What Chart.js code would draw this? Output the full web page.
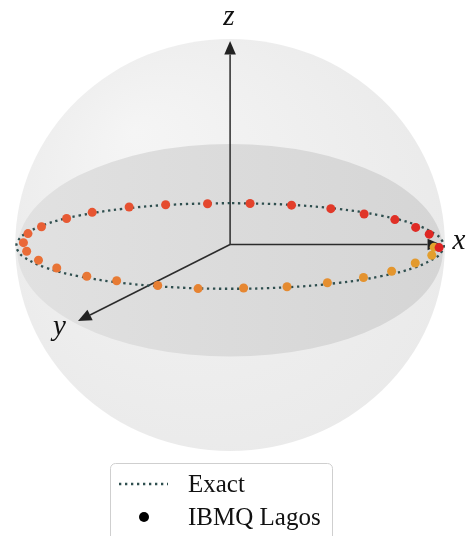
<!DOCTYPE html>
<html>
<head>
<meta charset="utf-8">
<script src="https://cdn.jsdelivr.net/npm/chart.js@4.4.1/dist/chart.umd.min.js"></script>
<style>
  html, body { margin: 0; padding: 0; background: #fff; }
  #bloch { display: block; }
</style>
</head>
<body>
<canvas id="bloch" width="470" height="536"></canvas>
<script>
// Positions, projected onto the page, in sphere radii
// (x to the right, y upward, origin at the centre of the sphere)
const seriesNames = ['Exact', 'IBMQ Lagos'];
const axisNames = ['x', 'y', 'z'];

const exactX = [0.000, -0.258, -0.498, -0.704, -0.862, -0.961, -0.986, -0.995, -0.986, -0.961,
  -0.862, -0.704, -0.498, -0.258, 0.000, 0.258, 0.498, 0.704, 0.862, 0.961,
  0.986, 0.995, 0.986, 0.961, 0.862, 0.704, 0.498, 0.258, 0.000];
const exactY = [0.203, 0.196, 0.175, 0.142, 0.099, 0.049, 0.022, -0.005, -0.032, -0.059,
  -0.109, -0.152, -0.185, -0.206, -0.213, -0.206, -0.185, -0.152, -0.109, -0.059,
  -0.032, -0.005, 0.022, 0.049, 0.099, 0.142, 0.175, 0.196, 0.203];

const lagosX = [0.950, 0.939, 0.862, 0.752, 0.621, 0.453, 0.265, 0.063, -0.149, -0.337,
  -0.528, -0.667, -0.807, -0.892, -0.947, -0.962, -0.941, -0.878, -0.761, -0.642,
  -0.470, -0.300, -0.105, 0.093, 0.286, 0.469, 0.624, 0.767, 0.864, 0.927, 0.973];
const lagosY = [-0.011, -0.050, -0.088, -0.128, -0.158, -0.184, -0.203, -0.209, -0.212, -0.197,
  -0.174, -0.152, -0.112, -0.074, -0.031, 0.011, 0.055, 0.088, 0.128, 0.158,
  0.184, 0.195, 0.200, 0.201, 0.193, 0.176, 0.150, 0.123, 0.085, 0.052, -0.013];

// colour of the measured points, from the first to the last one drawn
const pointStops = [[226, 162, 44], [234, 104, 56], [221, 34, 34]];
function pointColour(c) {
    const n = c.dataset.data.length;
    const i = c.dataIndex === undefined ? n - 1 : c.dataIndex;
    const t = i / (n - 1) * 2;
    const k = Math.min(1, Math.floor(t)), f = t - k;
    const a = pointStops[k], b = pointStops[k + 1];
    return 'rgb(' + a.map((v, j) => Math.round(v + (b[j] - v) * f)).join(',') + ')';
}

// sphere, equator and axes behind the data
const blochSphere = {
    id: 'blochSphere',
    beforeDatasetsDraw(chart) {
        const { ctx, scales: { x, y } } = chart;
        const px = v => x.getPixelForValue(v), py = v => y.getPixelForValue(v);
        const cx = px(0), cy = py(0);
        const rx = px(1) - cx, ry = cy - py(1);
        ctx.save();

        let g = ctx.createRadialGradient(cx - 0.45 * rx, cy - 0.55 * ry, 0, cx, cy, 1.35 * rx);
        g.addColorStop(0, '#f5f5f5');
        g.addColorStop(1, '#e8e8e8');
        ctx.fillStyle = g;
        ctx.beginPath();
        ctx.ellipse(cx, cy, rx, ry, 0, 0, 2 * Math.PI);
        ctx.fill();

        // equator disc (drawn a little low, perspective)
        const dcy = py(-0.026), drx = px(0.991) - cx, dry = py(-0.542) - dcy;
        g = ctx.createLinearGradient(cx - drx, 0, cx + drx, 0);
        g.addColorStop(0, '#e1e1e1');
        g.addColorStop(1, '#d5d5d5');
        ctx.fillStyle = g;
        ctx.beginPath();
        ctx.ellipse(cx, dcy, drx, dry, 0, 0, 2 * Math.PI);
        ctx.fill();

        // axes with arrow heads
        const o = [px(0), py(0.002)];
        const tips = [[px(0.982), py(0.002)], [px(-0.708), py(-0.370)], [px(0), py(0.990)]];
        ctx.strokeStyle = '#2b2b2b';
        ctx.fillStyle = '#222';
        ctx.lineWidth = 1.5;
        tips.forEach(t => {
            const dx = t[0] - o[0], dy = t[1] - o[1];
            const len = Math.hypot(dx, dy), ux = dx / len, uy = dy / len;
            const hl = 13.5, hw = 5.8;
            const bx = t[0] - ux * hl, by = t[1] - uy * hl;
            ctx.beginPath();
            ctx.moveTo(o[0], o[1]);
            ctx.lineTo(bx, by);
            ctx.stroke();
            ctx.beginPath();
            ctx.moveTo(t[0], t[1]);
            ctx.lineTo(bx - uy * hw, by + ux * hw);
            ctx.lineTo(bx + uy * hw, by - ux * hw);
            ctx.closePath();
            ctx.fill();
        });

        // axis names
        ctx.fillStyle = '#111';
        ctx.font = 'italic 29px "Liberation Serif"';
        ctx.textAlign = 'center';
        ctx.textBaseline = 'alphabetic';
        ctx.fillText(axisNames[0], px(1.065), py(-0.018));
        ctx.fillText(axisNames[1], px(-0.795), py(-0.437));
        ctx.fillText(axisNames[2], px(-0.005), py(1.067));
        ctx.restore();
    }
};

// boxed legend under the sphere
const boxLegend = {
    id: 'boxLegend',
    afterDraw(chart) {
        const ctx = chart.ctx;
        const ds = chart.data.datasets;
        ctx.save();
        ctx.beginPath();
        ctx.roundRect(110.5, 463.5, 222, 90, 5);
        ctx.fillStyle = 'rgba(255,255,255,0.85)';
        ctx.fill();
        ctx.strokeStyle = '#cfcfcf';
        ctx.lineWidth = 1;
        ctx.stroke();

        ctx.strokeStyle = ds[0].borderColor;
        ctx.lineWidth = ds[0].borderWidth;
        ctx.setLineDash(ds[0].borderDash);
        ctx.beginPath();
        ctx.moveTo(119, 484);
        ctx.lineTo(168, 484);
        ctx.stroke();
        ctx.setLineDash([]);

        ctx.fillStyle = '#000';
        ctx.beginPath();
        ctx.arc(144, 517, 5, 0, 2 * Math.PI);
        ctx.fill();

        ctx.fillStyle = '#111';
        ctx.font = '25px "Liberation Serif"';
        ctx.textAlign = 'left';
        ctx.textBaseline = 'alphabetic';
        ctx.fillText(ds[0].label, 188, 492);
        ctx.fillText(ds[1].label, 188, 525);
        ctx.restore();
    }
};

new Chart(document.getElementById('bloch'), {
    type: 'scatter',
    data: {
        datasets: [{
            label: seriesNames[0],
            data: exactX.map((v, i) => ({ x: v, y: exactY[i] })),
            showLine: true,
            borderColor: '#2f4f4f',
            borderWidth: 2.3,
            borderDash: [2.3, 3.7],
            tension: 0.4,
            pointRadius: 0,
            fill: false,
            clip: false,
            order: 1
        }, {
            label: seriesNames[1],
            data: lagosX.map((v, i) => ({ x: v, y: lagosY[i] })),
            pointRadius: 4.5,
            pointBorderWidth: 0,
            pointBackgroundColor: pointColour,
            pointBorderColor: pointColour,
            clip: false,
            order: 0
        }]
    },
    options: {
        responsive: false,
        animation: false,
        devicePixelRatio: 1,
        layout: { padding: 0 },
        scales: {
            x: { type: 'linear', min: -1.0502, max: 1.0959, display: false },
            y: { type: 'linear', min: -1.3914, max: 1.1671, display: false }
        },
        plugins: {
            legend: { display: false },
            tooltip: { enabled: false }
        }
    },
    plugins: [blochSphere, boxLegend]
});
</script>
</body>
</html>
